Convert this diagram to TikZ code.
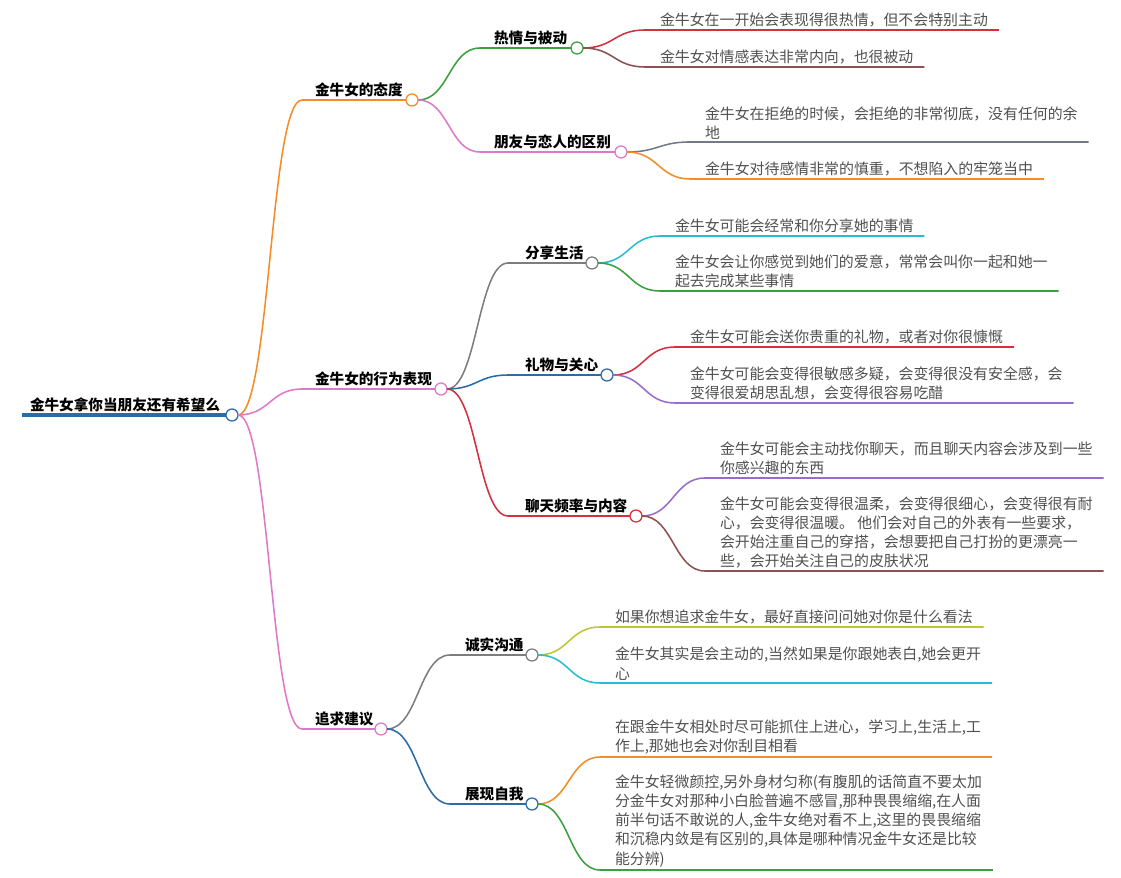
\documentclass[tikz,border=0pt]{standalone}
\usepackage{fontspec}
\setmainfont{Noto Sans CJK SC}
\usetikzlibrary{calc}
\definecolor{mmblue}{RGB}{44,108,166}
\definecolor{mmorange}{RGB}{245,140,40}
\definecolor{mmpink}{RGB}{222,120,200}
\definecolor{mmgreen}{RGB}{58,160,64}
\definecolor{mmred}{RGB}{212,48,62}
\definecolor{mmbrown}{RGB}{140,82,82}
\definecolor{mmgray}{RGB}{125,125,125}
\definecolor{mmslate}{RGB}{112,122,140}
\definecolor{mmcyan}{RGB}{40,188,210}
\definecolor{mmpurple}{RGB}{150,108,204}
\definecolor{mmolive}{RGB}{190,198,52}
\definecolor{leafgray}{RGB}{80,80,80}

\begin{document}
\begin{tikzpicture}[x=0.025cm,y=-0.025cm,
    every node/.style={inner sep=0pt,outer sep=0pt},
    hub/.style={circle,draw,fill=white,line width=0.9pt,minimum size=0.3cm},
    branch/.style={anchor=base west,font=\fontsize{10.4pt}{13.6pt}\selectfont\bfseries},
    leaf/.style={anchor=south west,align=left,text=leafgray,
        font=\fontsize{10.6pt}{13.6pt}\selectfont},
    link/.style={line width=1.1pt}
]
\useasboundingbox (0,0) rectangle (1121,878);

% root
\coordinate (root-s) at (22,415);
\node[branch] (root) at (30,411) {金牛女拿你当朋友还有希望么};
\node[hub,draw=mmblue] (root-c) at (232,415) {};
\draw[mmblue,line width=2.2pt] (root-s) -- (root-c.west);

%% first level
\coordinate (att-s) at (302,100);
\node[branch] (att) at (315,96) {金牛女的态度};
\node[hub,draw=mmorange] (att-c) at (412,100) {};
\draw[link,mmorange] (root-c.east) .. controls +(32,0) and +(-32,0) .. (att-s) -- (att-c.west);

\coordinate (beh-s) at (302,389);
\node[branch] (beh) at (315,385) {金牛女的行为表现};
\node[hub,draw=mmpink] (beh-c) at (441,389) {};
\draw[link,mmpink] (root-c.east) .. controls +(32,0) and +(-32,0) .. (beh-s) -- (beh-c.west);

\coordinate (pur-s) at (302,729);
\node[branch] (pur) at (315,725) {追求建议};
\node[hub,draw=mmpink] (pur-c) at (381,729) {};
\draw[link,mmpink] (root-c.east) .. controls +(32,0) and +(-32,0) .. (pur-s) -- (pur-c.west);

%% second level
\coordinate (hot-s) at (480,48);
\node[branch] (hot) at (494,44) {热情与被动};
\node[hub,draw=mmgreen] (hot-c) at (577,48) {};
\draw[link,mmgreen] (att-c.east) .. controls +(31,0) and +(-31,0) .. (hot-s) -- (hot-c.west);

\coordinate (fri-s) at (480,152);
\node[branch] (fri) at (494,148) {朋友与恋人的区别};
\node[hub,draw=mmpink] (fri-c) at (621,152) {};
\draw[link,mmpink] (att-c.east) .. controls +(31,0) and +(-31,0) .. (fri-s) -- (fri-c.west);

\coordinate (sha-s) at (508,263);
\node[branch] (sha) at (525,259) {分享生活};
\node[hub,draw=mmgray] (sha-c) at (592,263) {};
\draw[link,mmgray] (beh-c.east) .. controls +(30,0) and +(-30,0) .. (sha-s) -- (sha-c.west);

\coordinate (gif-s) at (508,375);
\node[branch] (gif) at (525,371) {礼物与关心};
\node[hub,draw=mmblue] (gif-c) at (607,375) {};
\draw[link,mmblue] (beh-c.east) .. controls +(30,0) and +(-30,0) .. (gif-s) -- (gif-c.west);

\coordinate (cha-s) at (508,516);
\node[branch] (cha) at (525,512) {聊天频率与内容};
\node[hub,draw=mmred] (cha-c) at (636,516) {};
\draw[link,mmred] (beh-c.east) .. controls +(30,0) and +(-30,0) .. (cha-s) -- (cha-c.west);

\coordinate (hon-s) at (450,655);
\node[branch] (hon) at (465,651) {诚实沟通};
\node[hub,draw=mmgray] (hon-c) at (532,655) {};
\draw[link,mmgray] (pur-c.east) .. controls +(31,0) and +(-31,0) .. (hon-s) -- (hon-c.west);

\coordinate (sho-s) at (450,804);
\node[branch] (sho) at (465,800) {展现自我};
\node[hub,draw=mmblue] (sho-c) at (532,804) {};
\draw[link,mmblue] (pur-c.east) .. controls +(31,0) and +(-31,0) .. (sho-s) -- (sho-c.west);

%% leaves
\coordinate (l1-s) at (645,30);
\node[leaf] (l1) at ($(l1-s)+(15,-3)$) {金牛女在一开始会表现得很热情，但不会特别主动};
\draw[link,mmred] (hot-c.east) .. controls +(31,0) and +(-31,0) .. (l1-s) -- (l1-s -| l1.east) -- ++(11,0);

\coordinate (l2-s) at (645,67);
\node[leaf] (l2) at ($(l2-s)+(15,-3)$) {金牛女对情感表达非常内向，也很被动};
\draw[link,mmbrown] (hot-c.east) .. controls +(31,0) and +(-31,0) .. (l2-s) -- (l2-s -| l2.east) -- ++(11,0);

\coordinate (l3-s) at (690,142);
\node[leaf] (l3) at ($(l3-s)+(15,-3)$) {金牛女在拒绝的时候，会拒绝的非常彻底，没有任何的余\\地};
\draw[link,mmslate] (fri-c.east) .. controls +(31,0) and +(-31,0) .. (l3-s) -- (l3-s -| l3.east) -- ++(11,0);

\coordinate (l4-s) at (690,179);
\node[leaf] (l4) at ($(l4-s)+(15,-3)$) {金牛女对待感情非常的慎重，不想陷入的牢笼当中};
\draw[link,mmorange] (fri-c.east) .. controls +(31,0) and +(-31,0) .. (l4-s) -- (l4-s -| l4.east) -- ++(11,0);

\coordinate (l5-s) at (660,236);
\node[leaf] (l5) at ($(l5-s)+(15,-3)$) {金牛女可能会经常和你分享她的事情};
\draw[link,mmcyan] (sha-c.east) .. controls +(31,0) and +(-31,0) .. (l5-s) -- (l5-s -| l5.east) -- ++(11,0);

\coordinate (l6-s) at (660,291);
\node[leaf] (l6) at ($(l6-s)+(15,-3)$) {金牛女会让你感觉到她们的爱意，常常会叫你一起和她一\\起去完成某些事情};
\draw[link,mmgreen] (sha-c.east) .. controls +(31,0) and +(-31,0) .. (l6-s) -- (l6-s -| l6.east) -- ++(11,0);

\coordinate (l7-s) at (675,347);
\node[leaf] (l7) at ($(l7-s)+(15,-3)$) {金牛女可能会送你贵重的礼物，或者对你很慷慨};
\draw[link,mmred] (gif-c.east) .. controls +(31,0) and +(-31,0) .. (l7-s) -- (l7-s -| l7.east) -- ++(11,0);

\coordinate (l8-s) at (675,403);
\node[leaf] (l8) at ($(l8-s)+(15,-3)$) {金牛女可能会变得很敏感多疑，会变得很没有安全感，会\\变得很爱胡思乱想，会变得很容易吃醋};
\draw[link,mmpurple] (gif-c.east) .. controls +(31,0) and +(-31,0) .. (l8-s) -- (l8-s -| l8.east) -- ++(11,0);

\coordinate (l9-s) at (705,478);
\node[leaf] (l9) at ($(l9-s)+(15,-3)$) {金牛女可能会主动找你聊天，而且聊天内容会涉及到一些\\你感兴趣的东西};
\draw[link,mmpurple] (cha-c.east) .. controls +(31,0) and +(-31,0) .. (l9-s) -- (l9-s -| l9.east) -- ++(11,0);

\coordinate (l10-s) at (705,571);
\node[leaf] (l10) at ($(l10-s)+(15,-3)$) {金牛女可能会变得很温柔，会变得很细心，会变得很有耐\\心，会变得很温暖。 他们会对自己的外表有一些要求，\\会开始注重自己的穿搭，会想要把自己打扮的更漂亮一\\些，会开始关注自己的皮肤状况};
\draw[link,mmbrown] (cha-c.east) .. controls +(31,0) and +(-31,0) .. (l10-s) -- (l10-s -| l10.east) -- ++(11,0);

\coordinate (l11-s) at (600,627);
\node[leaf] (l11) at ($(l11-s)+(15,-3)$) {如果你想追求金牛女，最好直接问问她对你是什么看法};
\draw[link,mmolive] (hon-c.east) .. controls +(31,0) and +(-31,0) .. (l11-s) -- (l11-s -| l11.east) -- ++(11,0);

\coordinate (l12-s) at (600,683);
\node[leaf] (l12) at ($(l12-s)+(15,-3)$) {金牛女其实是会主动的,当然如果是你跟她表白,她会更开\\心};
\draw[link,mmcyan] (hon-c.east) .. controls +(31,0) and +(-31,0) .. (l12-s) -- (l12-s -| l12.east) -- ++(11,0);

\coordinate (l13-s) at (600,757);
\node[leaf] (l13) at ($(l13-s)+(15,-3)$) {在跟金牛女相处时尽可能抓住上进心，学习上,生活上,工\\作上,那她也会对你刮目相看};
\draw[link,mmorange] (sho-c.east) .. controls +(31,0) and +(-31,0) .. (l13-s) -- (l13-s -| l13.east) -- ++(11,0);

\coordinate (l14-s) at (600,870);
\node[leaf] (l14) at ($(l14-s)+(15,-3)$) {金牛女轻微颜控,另外身材匀称(有腹肌的话简直不要太加\\分金牛女对那种小白脸普遍不感冒,那种畏畏缩缩,在人面\\前半句话不敢说的人,金牛女绝对看不上,这里的畏畏缩缩\\和沉稳内敛是有区别的,具体是哪种情况金牛女还是比较\\能分辨)};
\draw[link,mmgreen] (sho-c.east) .. controls +(31,0) and +(-31,0) .. (l14-s) -- (l14-s -| l14.east) -- ++(11,0);
\end{tikzpicture}
\end{document}
